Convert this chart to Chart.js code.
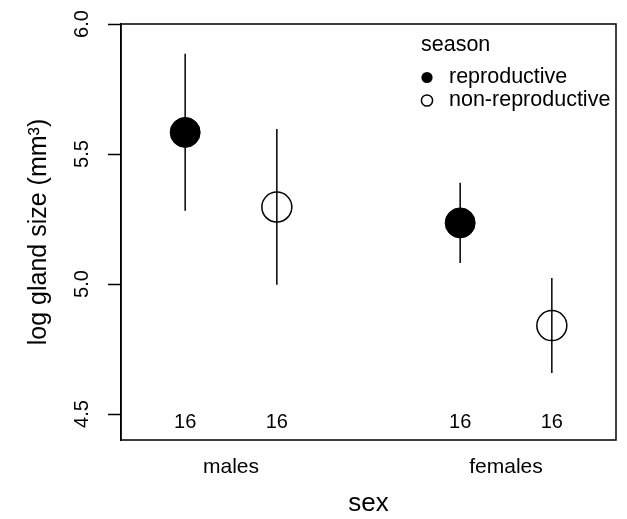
<!DOCTYPE html>
<html><head><meta charset="utf-8">
<script src="https://cdn.jsdelivr.net/npm/chart.js@4"></script>
<style>html,body{margin:0;padding:0;background:#fff;} canvas{display:block;}</style>
</head><body>
<canvas id="c" width="627" height="519"></canvas>
<script>
// ---- data ----
const categories = ['males', 'females'];
const categoryX = [1.5, 4.5];
const seasonTitle = 'season';
const seasons = ['reproductive', 'non-reproductive'];
const xRepro = [1, 4];
const xNon = [2, 5];
const meanRepro = [5.583, 5.235];
const lowRepro = [5.282, 5.081];
const highRepro = [5.886, 5.389];
const meanNon = [5.296, 4.840];
const lowNon = [4.997, 4.658];
const highNon = [5.596, 5.023];
const countsRepro = [16, 16];
const countsNon = [16, 16];
const countLabelY = 4.466;
const yTicks = [4.5, 5.0, 5.5, 6.0];
const yTitle = 'log gland size (mm³)';
const xTitle = 'sex';

const FONT = '"Liberation Sans", Arial, Helvetica, sans-serif';

const errDatasets = [];
function addErr(xs, lo, hi) {
  xs.forEach((x, i) => {
    errDatasets.push({
      type: 'line',
      data: [{x: x, y: lo[i]}, {x: x, y: hi[i]}],
      borderColor: '#000', borderWidth: 1.5, pointRadius: 0,
      showLine: true, fill: false, order: 2
    });
  });
}
addErr(xRepro, lowRepro, highRepro);
addErr(xNon, lowNon, highNon);

const pointDatasets = [
  { label: seasons[0], data: xRepro.map((x, i) => ({x: x, y: meanRepro[i]})),
    pointRadius: 15, pointBackgroundColor: '#000', pointBorderColor: '#000',
    pointBorderWidth: 1, showLine: false, order: 1 },
  { label: seasons[1], data: xNon.map((x, i) => ({x: x, y: meanNon[i]})),
    pointRadius: 15, pointBackgroundColor: 'rgba(0,0,0,0)', pointBorderColor: '#000',
    pointBorderWidth: 1.5, showLine: false, order: 1 }
];

const extras = {
  id: 'extras',
  afterDraw(chart) {
    const ctx = chart.ctx;
    const a = chart.chartArea;
    const xs = chart.scales.x, ys = chart.scales.y;
    ctx.save();
    ctx.strokeStyle = '#000'; ctx.lineWidth = 1.5;
    ctx.strokeRect(a.left, a.top, a.right - a.left, a.bottom - a.top);
    ctx.fillStyle = '#000';
    ctx.font = '20px ' + FONT;
    ctx.textAlign = 'center'; ctx.textBaseline = 'middle';
    ys.ticks.forEach(t => {
      const py = ys.getPixelForValue(t.value);
      ctx.save();
      ctx.translate(82, py);
      ctx.rotate(-Math.PI / 2);
      ctx.fillText(t.value.toFixed(1), 0, 0);
      ctx.restore();
    });
    const cy = ys.getPixelForValue(countLabelY);
    xRepro.forEach((x, i) => ctx.fillText(String(countsRepro[i]), xs.getPixelForValue(x), cy));
    xNon.forEach((x, i) => ctx.fillText(String(countsNon[i]), xs.getPixelForValue(x), cy));
    ctx.font = '21.5px ' + FONT;
    ctx.textAlign = 'left';
    ctx.fillText(seasonTitle, 421, 45);
    const ly = [77.5, 100.5];
    pointDatasets.forEach((ds, i) => {
      ctx.beginPath();
      ctx.arc(427, ly[i], 5.6, 0, Math.PI * 2);
      if (i === 0) { ctx.fillStyle = '#000'; ctx.fill(); }
      else { ctx.lineWidth = 1.5; ctx.strokeStyle = '#000'; ctx.stroke(); }
      ctx.fillStyle = '#000';
      ctx.fillText(ds.label, 449, ly[i]);
    });
    ctx.restore();
  }
};

new Chart(document.getElementById('c'), {
  type: 'scatter',
  data: { datasets: errDatasets.concat(pointDatasets) },
  options: {
    responsive: false, animation: false,
    layout: { autoPadding: false, padding: { top: 24, right: 11, bottom: 0, left: 0 } },
    plugins: { legend: { display: false }, tooltip: { enabled: false } },
    scales: {
      x: {
        type: 'linear', min: 0.3, max: 5.7,
        afterBuildTicks: s => { s.ticks = categoryX.map(v => ({value: v})); },
        afterFit: s => { s.height = 79; },
        ticks: {
          color: '#000', font: { size: 21, family: FONT }, padding: 15,
          callback: (v) => { const i = categoryX.indexOf(v); return i >= 0 ? categories[i] : ''; },
          maxRotation: 0, minRotation: 0, autoSkip: false
        },
        grid: { display: false, drawTicks: false },
        border: { display: false },
        title: { display: true, text: xTitle, color: '#000', font: { size: 26, family: FONT }, padding: { top: 0, bottom: 0 } }
      },
      y: {
        type: 'linear', min: 4.4, max: 6.0,
        afterBuildTicks: s => { s.ticks = yTicks.map(v => ({value: v})); },
        afterFit: s => { s.width = 121; },
        ticks: { display: false },
        grid: { display: true, drawOnChartArea: false, drawTicks: true, tickLength: 13, tickWidth: 1.5, tickColor: '#000' },
        border: { display: true, color: '#000', width: 1.5 },
        title: { display: true, text: yTitle, color: '#000', font: { size: 25, family: FONT }, padding: { top: 24, bottom: 0 } }
      }
    }
  },
  plugins: [extras]
});
</script>
</body></html>
